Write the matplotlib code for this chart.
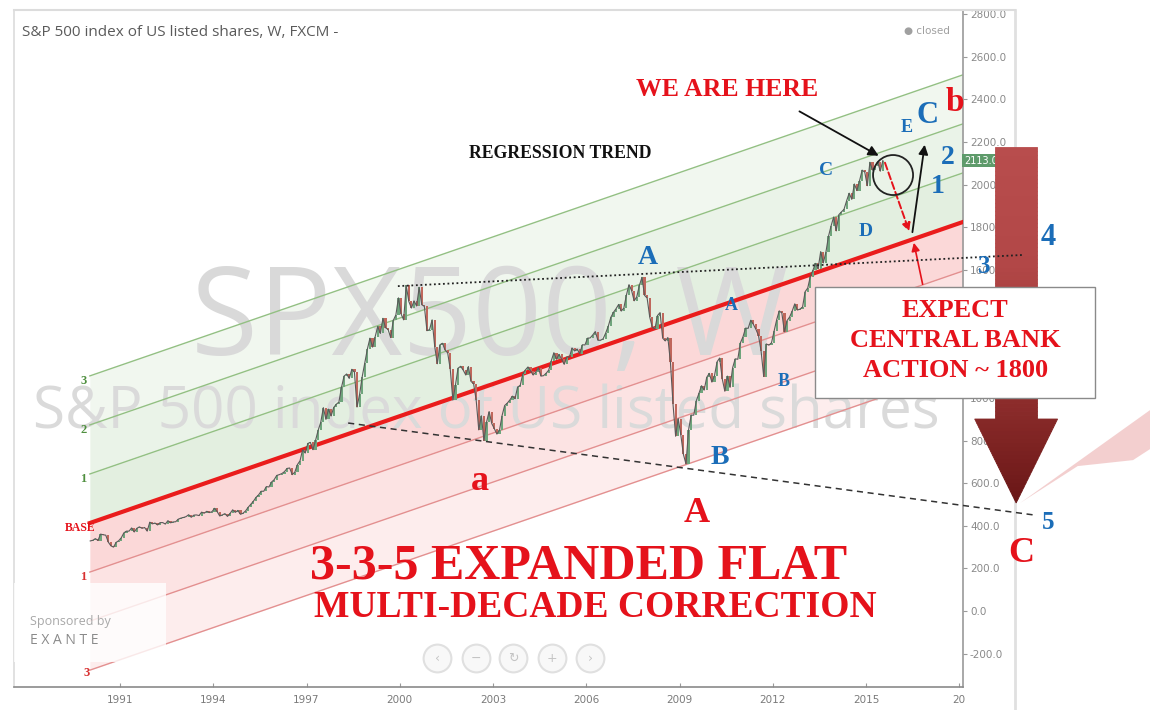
import numpy as np
import matplotlib
matplotlib.use("Agg")
import matplotlib.pyplot as plt
import matplotlib.transforms as mtransforms
from matplotlib.lines import Line2D
from matplotlib.patches import Ellipse, Rectangle, Polygon

spx_1990s = [
    329, 332, 340, 331, 361, 358, 356, 323, 306, 300, 322, 330,
    344, 367, 375, 375, 390, 371, 388, 395, 388, 392, 375, 417,
    409, 413, 404, 415, 415, 408, 424, 414, 418, 419, 431, 436,
    439, 443, 452, 440, 450, 451, 448, 464, 459, 468, 462, 466,
    482, 467, 446, 451, 457, 444, 458, 475, 463, 472, 454, 459,
    470, 487, 501, 515, 533, 545, 562, 562, 584, 582, 605, 616,
    636, 640, 645, 654, 669, 671, 640, 652, 687, 705, 757, 741,
    786, 791, 757, 801, 848, 885, 954, 899, 947, 915, 955, 970,
    980, 1049, 1102, 1112, 1091, 1134, 1121, 957, 1017, 1099, 1164, 1229,
    1280, 1238, 1286, 1335, 1302, 1373, 1329, 1320, 1283, 1363, 1389, 1469,
]
spx_2000s = [
    1394, 1366, 1527, 1452, 1421, 1455, 1431, 1518, 1437, 1429, 1315, 1320,
    1366, 1240, 1160, 1249, 1256, 1224, 1211, 1134, 990, 1060, 1139, 1148,
    1130, 1107, 1147, 1077, 1067, 990, 850, 916, 800, 886, 936, 880,
    856, 830, 848, 917, 964, 975, 990, 1008, 996, 1051, 1058, 1112,
    1131, 1145, 1126, 1107, 1121, 1141, 1102, 1104, 1115, 1130, 1174, 1212,
    1181, 1204, 1181, 1157, 1192, 1191, 1234, 1220, 1229, 1207, 1249, 1248,
    1280, 1281, 1295, 1311, 1270, 1270, 1277, 1304, 1336, 1378, 1401, 1418,
    1438, 1407, 1421, 1482, 1531, 1503, 1455, 1474, 1527, 1565, 1481, 1468,
    1379, 1331, 1323, 1386, 1400, 1280, 1267, 1283, 1166, 969, 820, 903,
    826, 735, 690, 850, 919, 919, 987, 1021, 1057, 1036, 1096, 1115,
]
spx_2010s = [
    1074, 1104, 1169, 1187, 1089, 1031, 1102, 1049, 1141, 1183, 1181, 1258,
    1286, 1327, 1326, 1364, 1345, 1321, 1292, 1219, 1100, 1253, 1247, 1258,
    1312, 1366, 1408, 1398, 1310, 1362, 1379, 1407, 1441, 1412, 1416, 1426,
    1498, 1515, 1569, 1598, 1631, 1606, 1686, 1633, 1682, 1757, 1806, 1848,
    1783, 1859, 1872, 1884, 1924, 1960, 1931, 2003, 1972, 2018, 2068, 2059,
    1995, 2105, 2068, 2086, 2107, 2063, 2113,
]

# regression channel
chan_years = [1990.03, 2018.12]
base_vals = [413, 1825]
band_step = 230
band_levels = [1, 2, 3]
green_fill = ["#e3efe0", "#eaf3e8", "#f1f7ef"]
red_fill = ["#fbd8d8", "#fce3e3", "#fdeded"]

ytick_vals = list(range(-200, 2801, 200))
xtick_years = [1991, 1994, 1997, 2000, 2003, 2006, 2009, 2012, 2015, 2018]
xtick_labels = ["1991", "1994", "1997", "2000", "2003", "2006", "2009", "2012", "2015", "20"]
last_price = 2113

RED = "#e5121b"
BLUE = "#1b6db8"
SERIF = "Liberation Serif"

closes = np.array(spx_1990s + spx_2000s + spx_2010s, dtype=float)
t = 1990 + (np.arange(len(closes)) + 0.5) / 12
opens = np.r_[closes[0], closes[:-1]]
up = closes >= opens

fig = plt.figure(figsize=(11.5, 7.1), dpi=100)
fig.patch.set_facecolor("white")
ax = fig.add_axes([14 / 1150, 1 - 687 / 710, 949 / 1150, 677 / 710])
ax.set_xlim(1987.59, 2018.12)
ax.set_ylim(-356, 2819)

# channel fills and lines
cx = np.array(chan_years)
base = np.array(base_vals, dtype=float)
for k, gc, rc in zip(band_levels, green_fill, red_fill):
    ax.fill_between(cx, base + (k - 1) * band_step, base + k * band_step, color=gc, lw=0, zorder=1)
    ax.fill_between(cx, base - k * band_step, base - (k - 1) * band_step, color=rc, lw=0, zorder=1)
    ax.plot(cx, base + k * band_step, color="#93c083", lw=1, zorder=2)
    ax.plot(cx, base - k * band_step, color="#e39090", lw=1, zorder=2)
    ax.text(chan_years[0] - 0.2, base_vals[0] + k * band_step - 25, str(k), color="#4f8f3f",
            fontsize=9, family=SERIF, fontweight="bold", ha="center", va="center", zorder=4)
ax.plot(cx, base, color="#ea1c1c", lw=3, zorder=2.6)
ax.text(chan_years[0] - 0.2, base_vals[0] - 25 - band_step, "1", color="#d83030", fontsize=9,
        family=SERIF, fontweight="bold", ha="center", va="center", zorder=4)
ax.text(chan_years[0] - 0.1, base_vals[0] - 25 - 3 * band_step + 10, "3", color="#d83030", fontsize=9,
        family=SERIF, fontweight="bold", ha="center", va="center", zorder=4)
ax.text(1989.71, 389, "BASE", color=RED, fontsize=8.5, family=SERIF, fontweight="bold",
        ha="center", va="center", zorder=4)

# watermarks
ax.text(2002.9, 1350, "SPX500, W", fontsize=88, family="Open Sans", color="#d9d9d9",
        ha="center", va="center", zorder=1.2)
ax.text(2002.78, 930, "S&P 500 index of US listed shares", fontsize=42, family="Open Sans",
        color="#dadada", ha="center", va="center", zorder=1.2)

# price candles
ax.bar(t[up], (closes - opens)[up], bottom=opens[up], width=0.07, color="#6fa57c", zorder=3)
ax.bar(t[~up], (opens - closes)[~up], bottom=closes[~up], width=0.07, color="#c0675c", zorder=3)
ax.plot(t, closes, color="#5a5a5a", lw=0.8, zorder=3.5)

# sponsor overlay
ax.add_patch(Rectangle((1987.59, -240), 4.9, 370, facecolor="white", alpha=0.8, lw=0, zorder=2.8))
ax.text(1988.1, -50, "Sponsored by", fontsize=9, color="#a8a8a8", family="Open Sans",
        va="center", zorder=4)
ax.text(1988.1, -140, "E X A N T E", fontsize=10, color="#8a8a8a", family="Open Sans",
        va="center", zorder=4)

# chart navigation buttons
nav_x = [2001.20, 2002.45, 2003.64, 2004.90, 2006.12]
nav_sym = ["‹", "−", "↻", "+", "›"]
ax.scatter(nav_x, [-220] * 5, s=400, facecolor="#f8f8f8", edgecolor="#e0e0e0", lw=1.5, zorder=4)
for nx, sym in zip(nav_x, nav_sym):
    ax.text(nx, -220, sym, fontsize=9, color="#c4c4c4", ha="center", va="center", zorder=4.5)

# trend lines
ax.plot([1999.94, 2020.02], [1524, 1670], color="#222", ls=(0, (1, 1.5)), lw=1.3,
        clip_on=False, zorder=6.5)
ax.plot([1998.34, 2020.44], [882, 450], color="#333", ls=(0, (4, 3)), lw=1.1,
        clip_on=False, zorder=4)

# texts
ax.text(0.0084, 0.9675, "S&P 500 index of US listed shares, W, FXCM -", transform=ax.transAxes,
        fontsize=11, color="#5a5a5a", family="Open Sans", va="center", ha="left")
ax.text(2017.7, 2720, "● closed", fontsize=7.5, color="#a0a0a0", ha="right", va="center")
ax.text(2005.16, 2148, "REGRESSION TREND", fontsize=12.8, family=SERIF, fontweight="bold",
        color="#111", ha="center", va="center", zorder=5)
ax.text(2010.53, 2448, "WE ARE HERE", fontsize=18.5, family=SERIF, fontweight="bold",
        color=RED, ha="center", va="center", zorder=5)
ax.text(2005.74, 211, "3-3-5 EXPANDED FLAT", fontsize=36, family=SERIF, fontweight="bold",
        color=RED, ha="center", va="center", zorder=5)
ax.text(2006.28, 19, "MULTI-DECADE CORRECTION", fontsize=27, family=SERIF, fontweight="bold",
        color=RED, ha="center", va="center", zorder=5)

waves = [
    (2016.32, 2270, "E", BLUE, 13), (2016.99, 2326, "C", BLUE, 22), (2017.87, 2383, "b", RED, 24),
    (2017.64, 2129, "2", BLUE, 20), (2017.29, 1989, "1", BLUE, 20), (2013.72, 2068, "C", BLUE, 14),
    (2015.00, 1778, "D", BLUE, 14), (2007.99, 1656, "A", BLUE, 20), (2010.66, 1435, "A", BLUE, 13),
    (2012.36, 1079, "B", BLUE, 13), (2010.30, 722, "B", BLUE, 20), (2002.58, 610, "a", RED, 26),
    (2009.56, 460, "A", RED, 26), (2018.80, 1618, "3", BLUE, 18), (2020.86, 1754, "4", BLUE, 22),
    (2020.86, 417, "5", BLUE, 18), (2019.99, 272, "C", RED, 26),
]
for wx, wy, s, c, fs in waves:
    ax.text(wx, wy, s, color=c, fontsize=fs, family=SERIF, fontweight="bold",
            ha="center", va="center", clip_on=False, zorder=7)

# arrows and circle
ax.annotate("", xy=(2015.485, 2129), xytext=(2012.78, 2350), annotation_clip=False,
            arrowprops=dict(arrowstyle="-|>", color="#111", lw=1.3, mutation_scale=15), zorder=6)
ax.annotate("", xy=(2016.42, 1768), xytext=(2015.58, 2115), annotation_clip=False,
            arrowprops=dict(arrowstyle="-|>", color=RED, lw=1.4, ls="--", mutation_scale=12), zorder=6)
ax.annotate("", xy=(2016.90, 2200), xytext=(2016.48, 1764), annotation_clip=False,
            arrowprops=dict(arrowstyle="-|>", color="#111", lw=1.3, mutation_scale=14), zorder=6)
ax.annotate("", xy=(2016.52, 1740), xytext=(2016.84, 1520), annotation_clip=False,
            arrowprops=dict(arrowstyle="-|>", color=RED, lw=1.2, mutation_scale=12), zorder=6)
ax.add_patch(Ellipse((2015.87, 2045), 40 / 31.08, 40 / 0.2132, fill=False, ec="#222", lw=1.3, zorder=6))

# faded pink arrow on the right
ax.add_patch(Polygon([(2019.96, 507), (2024.14, 943), (2024.14, 760), (2023.59, 708), (2021.81, 680)],
                     closed=True, facecolor="#f0c4c4", alpha=0.8, lw=0, clip_on=False, zorder=4))

# big dark red arrow, drawn as strips for the gradient
y_tip, y_neck, y_top = 507, 910, 2176
sh_l, sh_r = 2019.15, 2020.50
hd_c, hd_half = 2019.83, 1.365
edges = np.linspace(y_tip, y_top, 90)
cmap = matplotlib.colors.LinearSegmentedColormap.from_list("arr", ["#6a1717", "#93302f", "#b24747", "#b84d4d"])
for y0, y1 in zip(edges[:-1], edges[1:]):
    frac = (y0 - y_tip) / (y_top - y_tip)
    col = cmap(frac)
    if y1 <= y_neck:
        h0 = hd_half * (y0 - y_tip) / (y_neck - y_tip)
        h1 = hd_half * (y1 - y_tip) / (y_neck - y_tip)
        pts = [(hd_c - h0, y0), (hd_c + h0, y0), (hd_c + h1, y1), (hd_c - h1, y1)]
    else:
        pts = [(sh_l, y0), (sh_r, y0), (sh_r, y1), (sh_l, y1)]
    ax.add_patch(Polygon(pts, closed=True, facecolor=col, edgecolor=col, lw=0.6,
                         clip_on=False, zorder=5))

# call-out box
ax.add_patch(Rectangle((2013.36, 999), 9.01, 521, facecolor="white", edgecolor="#8a8a8a",
                       lw=1, clip_on=False, zorder=6.8))
for ty, line in zip([1412, 1271, 1130], ["EXPECT", "CENTRAL BANK", "ACTION ~ 1800"]):
    ax.text(2017.87, ty, line, fontsize=19, family=SERIF, fontweight="bold", color=RED,
            ha="center", va="center", clip_on=False, zorder=7)

# last price tag
blend = mtransforms.blended_transform_factory(ax.transAxes, ax.transData)
ax.text(1.001, last_price, f"{last_price:.1f}", transform=blend, fontsize=7, color="white",
        ha="left", va="center", clip_on=False, zorder=4.8,
        bbox=dict(boxstyle="square,pad=0.2", fc="#5e9b6b", ec="none"))

# axes styling
ax.yaxis.tick_right()
ax.set_yticks(ytick_vals)
ax.set_yticklabels([f"{v:.1f}" for v in ytick_vals])
ax.set_xticks(xtick_years)
ax.set_xticklabels(xtick_labels)
ax.tick_params(axis="y", colors="#9a9a9a", labelsize=7.5, length=3, pad=2, labelcolor="#8a8a8a")
ax.tick_params(axis="x", colors="#9a9a9a", labelsize=7.5, length=3, direction="in", pad=6,
               labelcolor="#7a7a7a")
ax.spines["bottom"].set_color("#8a8a8a")
ax.spines["right"].set_color("#9a9a9a")
ax.spines["left"].set_color("#dcdcdc")
ax.spines["top"].set_color("#dcdcdc")
for s in ax.spines.values():
    s.set_linewidth(1.2)

fig.add_artist(Line2D([14 / 1150, 1015 / 1150], [1 - 10 / 710] * 2, color="#dcdcdc", lw=1.5,
                      transform=fig.transFigure))
fig.add_artist(Line2D([1015 / 1150] * 2, [1 - 10 / 710, 0], color="#e0e0e0", lw=2,
                      transform=fig.transFigure, zorder=0))

fig.savefig("out.png", dpi=100, facecolor="white")
